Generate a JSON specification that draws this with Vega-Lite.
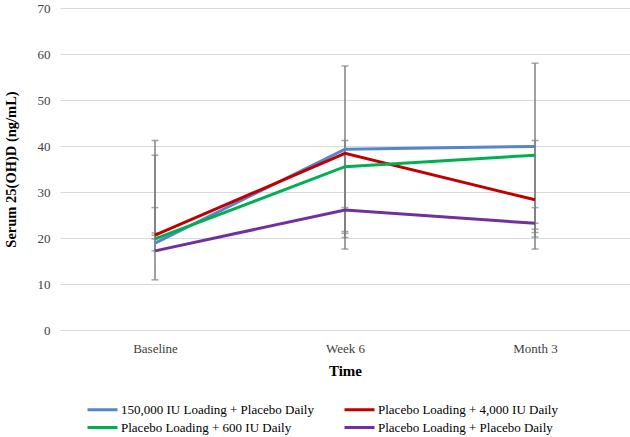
{
  "$schema": "https://vega.github.io/schema/vega-lite/v6.json",
  "width": 570,
  "height": 322,
  "autosize": {"type": "none"},
  "padding": {"left": 60, "top": 8, "right": 0, "bottom": 107},
  "background": "white",
  "config": {
    "view": {"stroke": null},
    "font": "Liberation Serif",
    "axis": {"labelFont": "Liberation Serif", "titleFont": "Liberation Serif", "labelColor": "#404040", "titleColor": "#000000"}
  },
  "datasets": {
    "lines": [
      {"time": "Baseline", "group": "150,000 IU Loading + Placebo Daily", "value": 18.9},
      {"time": "Week 6", "group": "150,000 IU Loading + Placebo Daily", "value": 39.3},
      {"time": "Month 3", "group": "150,000 IU Loading + Placebo Daily", "value": 39.9},
      {"time": "Baseline", "group": "Placebo Loading + 4,000 IU Daily", "value": 20.6},
      {"time": "Week 6", "group": "Placebo Loading + 4,000 IU Daily", "value": 38.4},
      {"time": "Month 3", "group": "Placebo Loading + 4,000 IU Daily", "value": 28.3},
      {"time": "Baseline", "group": "Placebo Loading + 600 IU Daily", "value": 19.8},
      {"time": "Week 6", "group": "Placebo Loading + 600 IU Daily", "value": 35.5},
      {"time": "Month 3", "group": "Placebo Loading + 600 IU Daily", "value": 38.0},
      {"time": "Baseline", "group": "Placebo Loading + Placebo Daily", "value": 17.2},
      {"time": "Week 6", "group": "Placebo Loading + Placebo Daily", "value": 26.1},
      {"time": "Month 3", "group": "Placebo Loading + Placebo Daily", "value": 23.2}
    ],
    "errors": [
      {"time": "Baseline", "group": "150,000 IU Loading + Placebo Daily", "lo": 10.9, "hi": 26.6},
      {"time": "Baseline", "group": "Placebo Loading + 4,000 IU Daily", "lo": 20.6, "hi": 41.2},
      {"time": "Baseline", "group": "Placebo Loading + 600 IU Daily", "lo": 19.8, "hi": 38.0},
      {"time": "Baseline", "group": "Placebo Loading + Placebo Daily", "lo": 17.2, "hi": 21.1},
      {"time": "Week 6", "group": "150,000 IU Loading + Placebo Daily", "lo": 21.4, "hi": 57.4},
      {"time": "Week 6", "group": "Placebo Loading + 4,000 IU Daily", "lo": 17.6, "hi": 38.4},
      {"time": "Week 6", "group": "Placebo Loading + 600 IU Daily", "lo": 20.1, "hi": 41.2},
      {"time": "Week 6", "group": "Placebo Loading + Placebo Daily", "lo": 21.0, "hi": 26.6},
      {"time": "Month 3", "group": "150,000 IU Loading + Placebo Daily", "lo": 21.9, "hi": 58.0},
      {"time": "Month 3", "group": "Placebo Loading + 4,000 IU Daily", "lo": 17.6, "hi": 26.6},
      {"time": "Month 3", "group": "Placebo Loading + 600 IU Daily", "lo": 20.2, "hi": 41.2},
      {"time": "Month 3", "group": "Placebo Loading + Placebo Daily", "lo": 21.2, "hi": 23.2}
    ]
  },
  "encoding": {
    "x": {
      "field": "time", "type": "ordinal",
      "sort": ["Baseline", "Week 6", "Month 3"],
      "scale": {"type": "point", "padding": 0.5},
      "axis": {
        "title": "Time", "titleFontSize": 15, "titleFontWeight": "bold", "titlePadding": 8,
        "labelAngle": 0, "labelFontSize": 13, "labelPadding": 12,
        "ticks": false, "domain": true, "domainColor": "#d9d9d9", "grid": false
      }
    }
  },
  "layer": [
    {
      "data": {"name": "errors"},
      "mark": {"type": "rule", "color": "#808080", "strokeWidth": 1.5},
      "encoding": {
        "y": {"field": "lo", "type": "quantitative"},
        "y2": {"field": "hi"}
      }
    },
    {
      "data": {"name": "errors"},
      "transform": [{"fold": ["lo", "hi"], "as": ["end", "cap"]}],
      "mark": {"type": "tick", "color": "#808080", "thickness": 1.5, "size": 7, "orient": "horizontal"},
      "encoding": {
        "y": {"field": "cap", "type": "quantitative"}
      }
    },
    {
      "data": {"name": "lines"},
      "mark": {"type": "line", "strokeWidth": 3},
      "encoding": {
        "y": {
          "field": "value", "type": "quantitative",
          "scale": {"domain": [0, 70], "nice": false},
          "axis": {
            "title": "Serum 25(OH)D (ng/mL)", "titleFontSize": 14.5, "titleFontWeight": "bold", "titlePadding": 19,
            "values": [0, 10, 20, 30, 40, 50, 60, 70], "labelFontSize": 13, "labelPadding": 10,
            "ticks": false, "domain": false, "grid": true, "gridColor": "#d9d9d9", "gridWidth": 1
          }
        },
        "color": {
          "field": "group", "type": "nominal",
          "scale": {
            "domain": ["150,000 IU Loading + Placebo Daily", "Placebo Loading + 4,000 IU Daily", "Placebo Loading + 600 IU Daily", "Placebo Loading + Placebo Daily"],
            "range": ["#5585CC", "#C00000", "#00B050", "#7030A0"]
          },
          "legend": {
            "title": null, "orient": "none", "legendX": 32, "legendY": 391, "direction": "horizontal", "columns": 2,
            "symbolType": "M-1.667,0H1.667", "symbolSize": 324, "symbolStrokeWidth": 3, "symbolOffset": 0,
            "labelFont": "Liberation Serif", "labelFontSize": 13, "labelColor": "#000000", "labelOffset": 8,
            "columnPadding": 24, "rowPadding": 0, "labelLimit": 300
          }
        }
      }
    }
  ]
}
